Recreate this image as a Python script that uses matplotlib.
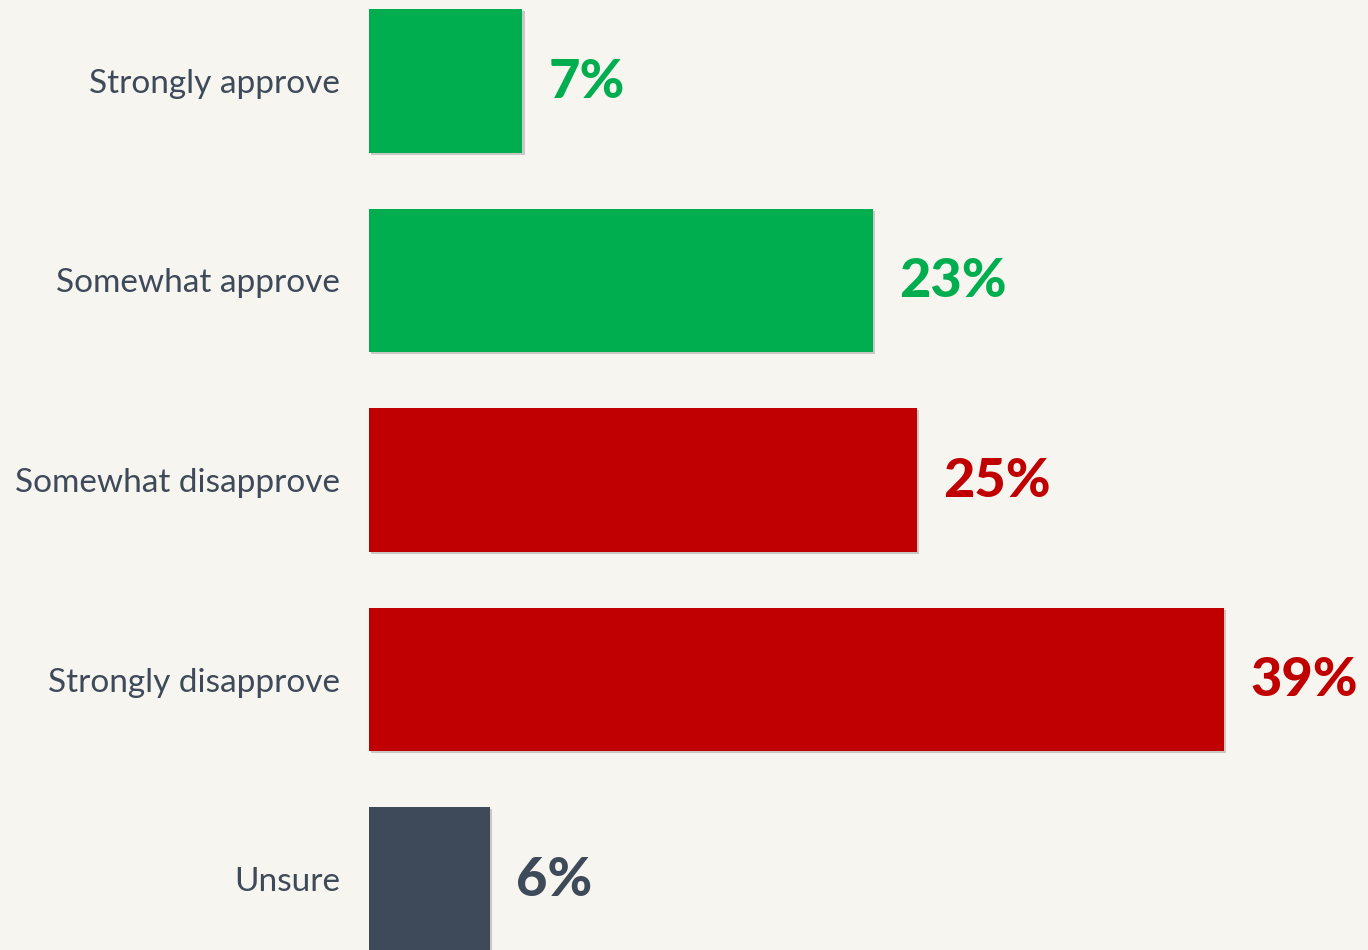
import matplotlib
matplotlib.use("Agg")
import matplotlib.pyplot as plt
import matplotlib.patheffects as pe

categories = ["Strongly approve", "Somewhat approve", "Somewhat disapprove",
              "Strongly disapprove", "Unsure"]
values = [7, 23, 25, 39, 5.5]
labels = ["7%", "23%", "25%", "39%", "6%"]
colors = ["#00ae4f", "#00ae4f", "#c00000", "#c00000", "#3e4a59"]

bg = "#f7f5f0"
fig = plt.figure(figsize=(13.68, 9.5), dpi=100, facecolor=bg)
ax = fig.add_axes([369 / 1368, 0, 1 - 369 / 1368, 1])
ax.set_facecolor(bg)

ypos = list(range(len(categories)))
bars = ax.barh(ypos, values, height=0.72, color=colors, zorder=3)
for b in bars:
    b.set_path_effects([pe.SimplePatchShadow(offset=(1.5, -1.5), shadow_rgbFace="#000000", alpha=0.18),
                        pe.Normal()])

ax.set_xlim(0, (1368 - 369) / 21.92)
ax.set_ylim(4 + 71 / 199.5, -81 / 199.5)

for y, v, lab, c in zip(ypos, values, labels, colors):
    ax.annotate(lab, xy=(v, y), xytext=(19, -1), textcoords="offset points",
                ha="left", va="center", fontsize=39, fontweight=900,
                family="Lato", color=c)

ax.set_yticks(ypos)
ax.set_yticklabels(categories, fontsize=24, family="Lato", color="#3e4a59")
ax.tick_params(axis="y", length=0, pad=21)
ax.set_xticks([])
for s in ax.spines.values():
    s.set_visible(False)

fig.savefig("out.png", dpi=100, facecolor=bg)
